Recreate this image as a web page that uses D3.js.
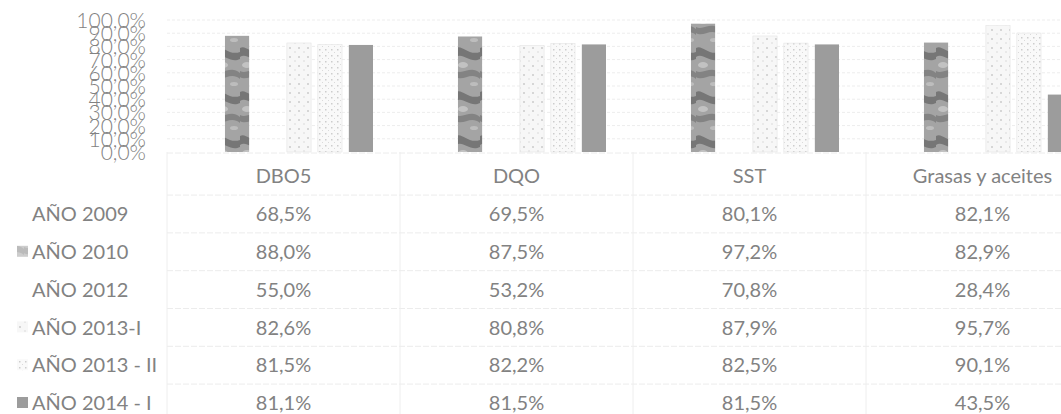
<!DOCTYPE html>
<html>
<head>
<meta charset="utf-8">
<script src="https://cdn.jsdelivr.net/npm/d3@7"></script>
<style>
  body { margin: 0; background: #fff; }
  text { font-family: Lato, "Open Sans", sans-serif; fill: #828282; }
</style>
</head>
<body>
<svg width="1061" height="414"></svg>
<script>
// Chart data
const categories = ["DBO5", "DQO", "SST", "Grasas y aceites"];
const seriesNames = ["AÑO 2009", "AÑO 2010", "AÑO 2012", "AÑO 2013-I", "AÑO 2013 - II", "AÑO 2014 - I"];
const values2009 = [68.5, 69.5, 80.1, 82.1];
const values2010 = [88.0, 87.5, 97.2, 82.9];
const values2012 = [55.0, 53.2, 70.8, 28.4];
const values2013a = [82.6, 80.8, 87.9, 95.7];
const values2013b = [81.5, 82.2, 82.5, 90.1];
const values2014 = [81.1, 81.5, 81.5, 43.5];
const yTicks = [0, 10, 20, 30, 40, 50, 60, 70, 80, 90, 100];

const seriesValues = [values2009, values2010, values2012, values2013a, values2013b, values2014];
const fmt = v => v.toFixed(1).replace(".", ",") + "%";

const svg = d3.select("svg");
const plot = { left: 167, right: 1099, top: 20, bottom: 152 };
const table = { header: 176, rowStart: 214, rowHeight: 37.8 };

// Fills for each series (scan-like textures)
const defs = svg.append("defs");
const texture = defs.append("pattern")
    .attr("id", "tex2010").attr("patternUnits", "userSpaceOnUse")
    .attr("width", 24).attr("height", 44);
texture.append("rect").attr("width", 24).attr("height", 44).attr("fill", "#a4a4a4");
texture.append("path").attr("d", "M0,4 C6,0 12,12 24,8 L24,15 C14,20 7,8 0,13 Z").attr("fill", "#767676");
texture.append("path").attr("d", "M0,27 C7,31 15,21 24,29 L24,35 C15,27 7,38 0,33 Z").attr("fill", "#838383");
texture.append("ellipse").attr("cx", 7).attr("cy", 21).attr("rx", 5).attr("ry", 3).attr("fill", "#c2c2c2");
texture.append("ellipse").attr("cx", 18).attr("cy", 40).attr("rx", 4).attr("ry", 2).attr("fill", "#bdbdbd");

const speckle = defs.append("pattern")
    .attr("id", "speckle").attr("patternUnits", "userSpaceOnUse")
    .attr("width", 9).attr("height", 9);
speckle.append("rect").attr("width", 9).attr("height", 9).attr("fill", "#f7f7f7");
speckle.append("circle").attr("cx", 2).attr("cy", 3).attr("r", 1).attr("fill", "#cbcbcb");
speckle.append("circle").attr("cx", 7).attr("cy", 7).attr("r", 0.8).attr("fill", "#d8d8d8");

const dotted = defs.append("pattern")
    .attr("id", "dotted").attr("patternUnits", "userSpaceOnUse")
    .attr("width", 6).attr("height", 6);
dotted.append("rect").attr("width", 6).attr("height", 6).attr("fill", "#f9f9f9");
dotted.append("rect").attr("x", 1).attr("y", 1).attr("width", 1.5).attr("height", 1.5).attr("fill", "#cdcdcd");
dotted.append("rect").attr("x", 4).attr("y", 4).attr("width", 1).attr("height", 1).attr("fill", "#dadada");

const fills = ["none", "url(#tex2010)", "none", "url(#speckle)", "url(#dotted)", "#9c9c9c"];

// Scales
const xScale = d3.scaleBand().domain(categories).range([plot.left, plot.right]);
const seriesScale = d3.scaleBand().domain(seriesNames).range([27, xScale.bandwidth() - 27]).paddingInner(0.22);
const yScale = d3.scaleLinear().domain([0, 100]).range([plot.bottom, plot.top]);

// Faint horizontal gridlines
svg.append("g").selectAll("line").data(yTicks.slice(1)).join("line")
    .attr("x1", plot.left).attr("x2", plot.right)
    .attr("y1", d => yScale(d)).attr("y2", d => yScale(d))
    .attr("stroke", "#ededed").attr("stroke-dasharray", "3,2");

// Y axis labels (crowded like in the original)
const yAxis = d3.axisLeft(yScale).tickValues(yTicks).tickSize(0).tickPadding(0)
    .tickFormat(d => d.toFixed(1).replace(".", ",") + "%");
svg.append("g")
    .attr("transform", `translate(146, 0)`)
    .call(yAxis)
    .call(g => g.select(".domain").remove())
    .call(g => g.selectAll("text")
        .attr("font-family", "Lato, sans-serif").attr("font-weight", 300)
        .attr("font-size", 21).attr("fill", "#8a8a8a").attr("dy", "0.36em"));

// Bars
seriesNames.forEach((name, si) => {
    svg.append("g").selectAll("rect")
        .data(categories.map((c, ci) => ({ c, v: seriesValues[si][ci] })))
        .join("rect")
        .attr("x", d => xScale(d.c) + seriesScale(name))
        .attr("y", d => yScale(d.v))
        .attr("width", seriesScale.bandwidth())
        .attr("height", d => yScale(0) - yScale(d.v))
        .attr("fill", fills[si])
        .attr("stroke", si === 3 || si === 4 ? "#e4e4e4" : "none")
        .attr("stroke-width", 0.6);
});

// Table lines
const rowLines = d3.range(1, seriesNames.length).map(i => table.rowStart - table.rowHeight / 2 + i * table.rowHeight);
svg.append("g").selectAll("line").data([plot.bottom + 1, table.rowStart - table.rowHeight / 2].concat(rowLines)).join("line")
    .attr("x1", plot.left).attr("x2", 1061)
    .attr("y1", d => d).attr("y2", d => d)
    .attr("stroke", "#ececec").attr("stroke-dasharray", "6,2");
svg.append("g").selectAll("line").data(categories).join("line")
    .attr("x1", d => xScale(d)).attr("x2", d => xScale(d))
    .attr("y1", plot.bottom).attr("y2", 414)
    .attr("stroke", "#eeeeee");

// Category header
svg.append("g").selectAll("text").data(categories).join("text")
    .attr("x", d => xScale(d) + xScale.bandwidth() / 2)
    .attr("y", table.header).attr("dy", "0.36em")
    .attr("text-anchor", "middle").attr("font-size", 20)
    .text(d => d);

// Rows: legend key, series name, values
seriesNames.forEach((name, si) => {
    const y = table.rowStart + si * table.rowHeight;
    if (fills[si] !== "none") {
        svg.append("rect")
            .attr("x", 17).attr("y", y - 6).attr("width", 11).attr("height", 11)
            .attr("fill", fills[si]).attr("opacity", si === 1 ? 0.55 : 1);
    }
    svg.append("text")
        .attr("x", 32).attr("y", y).attr("dy", "0.36em")
        .attr("font-size", 20)
        .text(name);
    svg.append("g").selectAll("text").data(categories).join("text")
        .attr("x", d => xScale(d) + xScale.bandwidth() / 2)
        .attr("y", y).attr("dy", "0.36em")
        .attr("text-anchor", "middle").attr("font-size", 20)
        .text((d, ci) => fmt(seriesValues[si][ci]));
});
</script>
</body>
</html>
